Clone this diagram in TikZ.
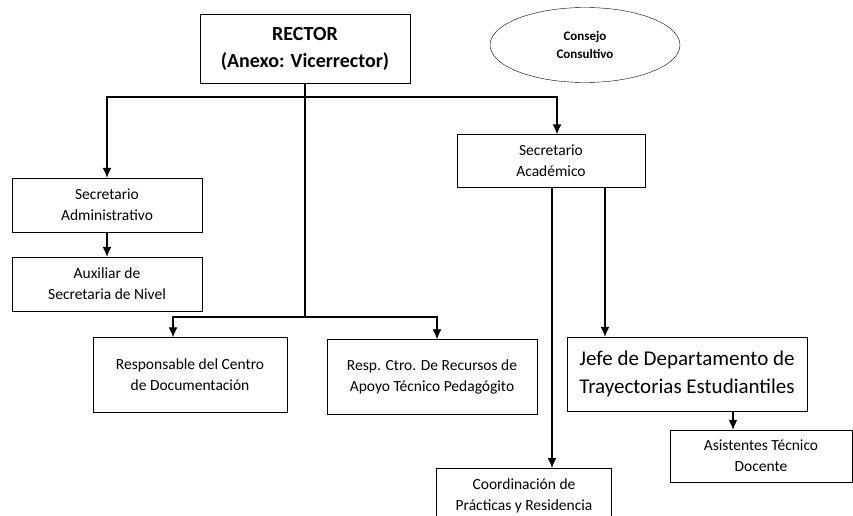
\documentclass[tikz,border=0pt]{standalone}
\usepackage{fontspec}
\setmainfont{Carlito}
\usepackage{tikz}
\usetikzlibrary{arrows.meta,shapes.geometric}

\begin{document}
\begin{tikzpicture}[x=1pt, y=-1pt,
  box/.style={draw, thin, align=center, inner sep=2pt, font=\fontsize{15.5}{21}\selectfont},
  arrow/.style={line width=1.3pt, -{Latex[length=10pt,width=9pt]}},
  link/.style={line width=1.3pt}]
\useasboundingbox (0,0) rectangle (853,516);
\clip (0,0) rectangle (853,516);

\node[box, minimum width=210pt, minimum height=69pt, font=\fontsize{20}{27}\selectfont\bfseries] (rector) at (305,49) {RECTOR\\(Anexo: Vicerrector)};
\node[draw, thin, ellipse, minimum width=190pt, minimum height=75pt, align=center, font=\fontsize{13}{18}\selectfont\bfseries] (consejo) at (585,45) {Consejo\\Consultivo};

\node[box, minimum width=190pt, minimum height=54pt] (secadm) at (107,205) {Secretario\\Administrativo};
\node[box, minimum width=190pt, minimum height=54pt] (auxiliar) at (107,284) {Auxiliar de\\Secretaria de Nivel};
\node[box, minimum width=188pt, minimum height=53pt] (secacad) at (551,161) {Secretario\\Acad\'emico};

\node[box, minimum width=194pt, minimum height=75pt] (responsable) at (190,375) {Responsable del Centro\\de Documentaci\'on};
\node[box, minimum width=210pt, minimum height=75pt] (recursos) at (432,377) {Resp. Ctro. De Recursos de\\Apoyo T\'ecnico Pedag\'ogito};
\node[box, minimum width=240pt, minimum height=74pt, font=\fontsize{21}{28}\selectfont] (jefe) at (687,374) {Jefe de Departamento de\\Trayectorias Estudiantiles};
\node[box, minimum width=182pt, minimum height=52pt] (asistentes) at (761,456) {Asistentes T\'ecnico\\Docente};
\node[box, minimum width=175pt, minimum height=55pt, anchor=north] (coordinacion) at (524,468) {Coordinaci\'on de\\Pr\'acticas y Residencia};

\coordinate (topbar) at (305,97);
\coordinate (lowbar) at (305,317);

% rector
\draw[link] (rector.south) -- (lowbar);
\draw[arrow] (topbar) -| (secadm.north);
\draw[arrow] (topbar) -| ([xshift=6pt]secacad.north);
\draw[arrow] (lowbar) -| ([xshift=-17pt]responsable.north);
\draw[arrow] (lowbar) -| ([xshift=5pt]recursos.north);

\draw[arrow] (secadm) -- (auxiliar);

% secretario academico
\draw[arrow] ([xshift=1pt]secacad.south) -- ([xshift=1pt]secacad.south |- coordinacion.north);
\draw[arrow] ([xshift=54pt]secacad.south) -- ([xshift=54pt]secacad.south |- jefe.north);
\draw[arrow] ([xshift=-28pt]asistentes.north |- jefe.south) -- ([xshift=-28pt]asistentes.north);
\end{tikzpicture}
\end{document}
